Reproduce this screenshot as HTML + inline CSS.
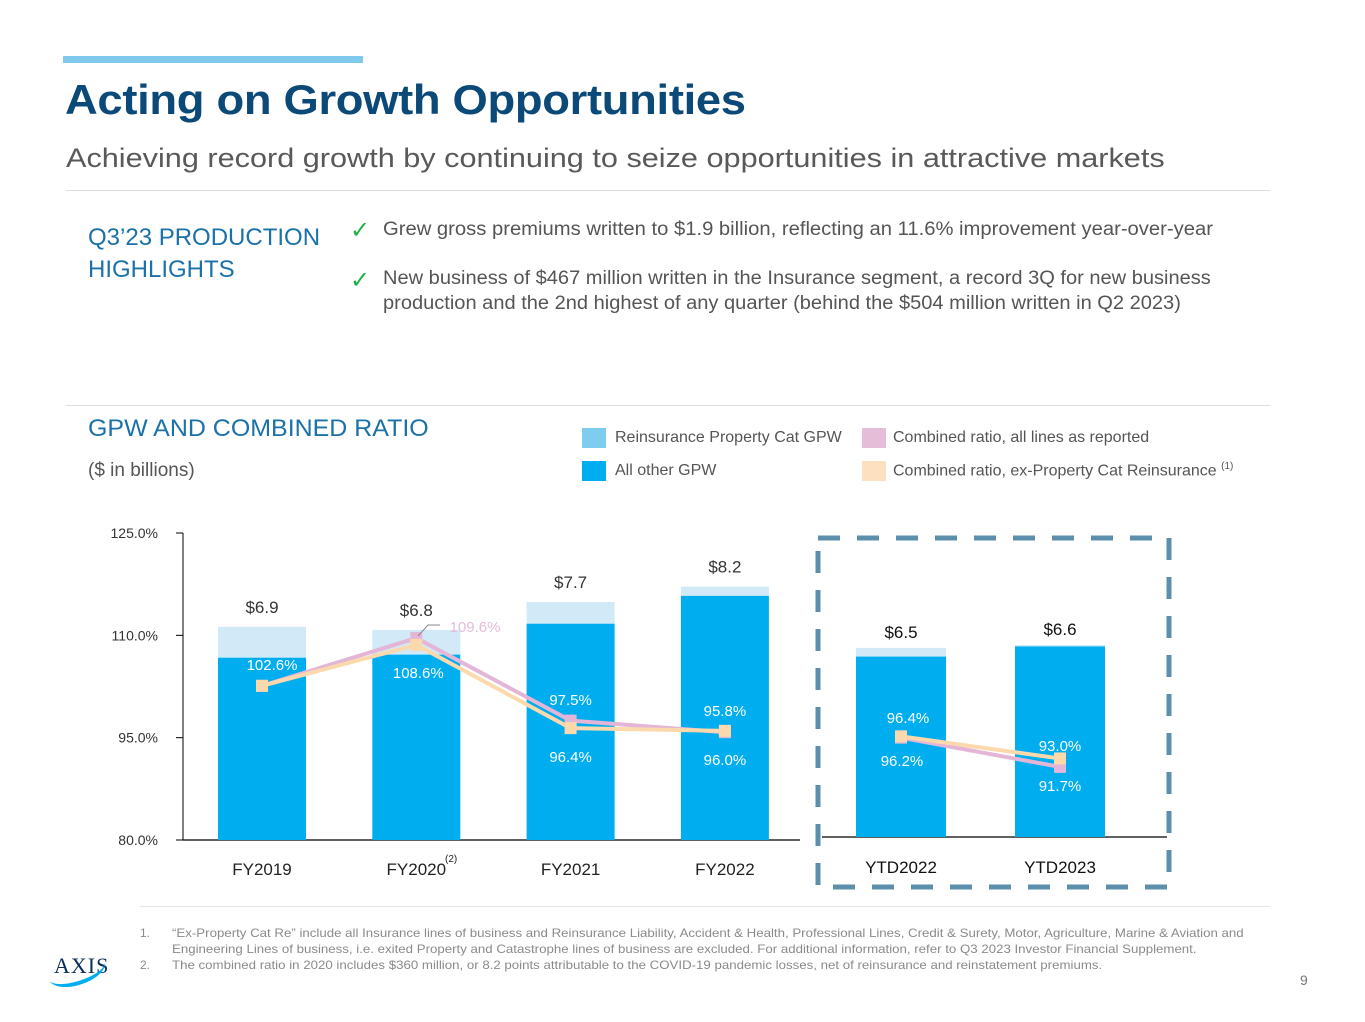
<!DOCTYPE html>
<html><head><meta charset="utf-8"><style>
body{margin:0;width:1365px;height:1022px;position:relative;background:#fff;font-family:"Liberation Sans",sans-serif;overflow:hidden}
.a{position:absolute;white-space:nowrap}
</style></head><body>
<div class="a" style="left:63px;top:56px;width:300px;height:7px;background:#7fc9ec"></div>
<div class="a" style="left:65px;top:76px;font-size:42px;font-weight:bold;color:#0b4a78;letter-spacing:-0.3px;transform-origin:0 0;transform:scaleX(1.08)">Acting on Growth Opportunities</div>
<div class="a" style="left:66px;top:143px;font-size:27px;color:#595959;transform-origin:0 0;transform:scaleX(1.135)">Achieving record growth by continuing to seize opportunities in attractive markets</div>
<div class="a" style="left:66px;top:190px;width:1204px;height:1px;background:#ddd"></div>
<div class="a" style="left:88px;top:222px;font-size:24px;line-height:32px;color:#1a72a8">Q3’23 PRODUCTION<br>HIGHLIGHTS</div>
<div class="a" style="left:350px;top:216px;font-size:24px;color:#22b04a">✓</div>
<div class="a" style="left:383px;top:219px;font-size:19px;color:#555;transform-origin:0 0;transform:scaleX(1.064)">Grew gross premiums written to $1.9 billion, reflecting an 11.6% improvement year-over-year</div>
<div class="a" style="left:350px;top:266px;font-size:24px;color:#22b04a">✓</div>
<div class="a" style="left:383px;top:266px;font-size:19px;line-height:25px;color:#555;transform-origin:0 0;transform:scaleX(1.055)">New business of $467 million written in the Insurance segment, a record 3Q for new business<br>production and the 2nd highest of any quarter (behind the $504 million written in Q2 2023)</div>
<div class="a" style="left:66px;top:405px;width:1204px;height:1px;background:#ddd"></div>
<div class="a" style="left:88px;top:415px;font-size:24px;color:#1a72a8;transform-origin:0 0;transform:scaleX(1.04)">GPW AND COMBINED RATIO</div>
<div class="a" style="left:88px;top:460px;font-size:19px;color:#555">($ in billions)</div>
<div class="a" style="left:582px;top:428px;font-size:16px;color:#555"><span style="display:inline-block;width:24px;height:20px;background:#7fcdee;vertical-align:middle;margin-right:9px"></span>Reinsurance Property Cat GPW</div>
<div class="a" style="left:582px;top:461px;font-size:16px;color:#555"><span style="display:inline-block;width:24px;height:20px;background:#00aeef;vertical-align:middle;margin-right:9px"></span>All other GPW</div>
<div class="a" style="left:862px;top:428px;font-size:16px;color:#555"><span style="display:inline-block;width:24px;height:20px;background:#e6bdd9;vertical-align:middle;margin-right:7px"></span>Combined ratio, all lines as reported</div>
<div class="a" style="left:862px;top:461px;font-size:16px;color:#555"><span style="display:inline-block;width:24px;height:20px;background:#fde0bf;vertical-align:middle;margin-right:7px"></span>Combined ratio, ex-Property Cat Reinsurance <sup style="font-size:10px">(1)</sup></div>

<svg class="a" style="left:0;top:0" width="1365" height="1022" font-family="Liberation Sans, sans-serif">
<g id="g"></g>
</svg>

<div class="a" style="left:140px;top:925px;font-size:12px;line-height:16px;color:#8a8a8a">
<div><span style="display:inline-block;width:32px">1.</span><span style="display:inline-block;transform-origin:0 0;transform:scaleX(1.105)">“Ex-Property Cat Re” include all Insurance lines of business and Reinsurance Liability, Accident &amp; Health, Professional Lines, Credit &amp; Surety, Motor, Agriculture, Marine &amp; Aviation and</span></div>
<div><span style="display:inline-block;width:32px"></span><span style="display:inline-block;transform-origin:0 0;transform:scaleX(1.105)">Engineering Lines of business, i.e. exited Property and Catastrophe lines of business are excluded. For additional information, refer to Q3 2023 Investor Financial Supplement.</span></div>
<div><span style="display:inline-block;width:32px">2.</span><span style="display:inline-block;transform-origin:0 0;transform:scaleX(1.105)">The combined ratio in 2020 includes $360 million, or 8.2 points attributable to the COVID-19 pandemic losses, net of reinsurance and reinstatement premiums.</span></div>
</div>
<div class="a" style="left:140px;top:906px;width:1130px;height:1px;background:#e5e5e5"></div>
<div class="a" style="left:54px;top:953px;font-family:'Liberation Serif',serif;font-size:22px;color:#0b2d5b;letter-spacing:1px">AXIS<span style="position:absolute;left:-6px;top:4px;width:58px;height:24px;border-bottom:4px solid #00aeef;border-radius:50%;transform:rotate(-18deg)"></span></div>
<div class="a" style="left:1300px;top:972px;font-size:14px;color:#777">9</div>

<script>
const categories=["FY2019","FY2020","FY2021","FY2022"];
const catGpw=[1.0,0.8,0.7,0.3];
const otherGpw=[5.9,6.0,7.0,7.9];
const totalLabels=["$6.9","$6.8","$7.7","$8.2"];
const crReported=[102.6,109.6,97.5,95.8];
const crExCat=[102.6,108.6,96.4,96.0];
const ytdCategories=["YTD2022","YTD2023"];
const ytdCat=[0.3,0.05];
const ytdOther=[6.2,6.55];
const ytdLabels=["$6.5","$6.6"];
const ytdReported=[96.2,91.7];
const ytdExCat=[96.4,93.0];
const yTicks=[80,95,110,125];

const NS="http://www.w3.org/2000/svg";
const g=document.getElementById("g");
function el(t,a,txt){const e=document.createElementNS(NS,t);for(const k in a)e.setAttribute(k,a[k]);if(txt!==undefined)e.textContent=txt;g.appendChild(e);return e;}
const yP=v=>840-(v-80)*307/45;
const yD=v=>840-v*30.9;
const xL=i=>262+i*154.3;
const yP2=v=>737-(v-96.3)*6.5;
const yD2=v=>837-v*29.1;
const xR=i=>901+i*159;

let e;
e=el("line",{x1:183,y1:533,x2:183,y2:840,stroke:"#000","stroke-width":1});

e=el("line",{x1:183,y1:840,x2:800,y2:840,stroke:"#000","stroke-width":1.2});

yTicks.forEach(t=>{
 e=el("line",{x1:176,y1:yP(t),x2:183,y2:yP(t),stroke:"#000"});
 
 e=el("text",{x:158,y:yP(t)+5,"text-anchor":"end","font-size":14,fill:"#333"},t.toFixed(1)+"%");
 
});
categories.forEach((c,i)=>{
 const x=xL(i);
 e=el("rect",{x:x-44,y:yD(otherGpw[i]+catGpw[i]),width:88,height:catGpw[i]*30.9,fill:"#d2e9f7"});
 
 e=el("rect",{x:x-44,y:yD(otherGpw[i]),width:88,height:otherGpw[i]*30.9,fill:"#00aeef"});
 
 e=el("text",{x:x,y:yD(otherGpw[i]+catGpw[i])-14,"text-anchor":"middle","font-size":17,fill:"#333"},totalLabels[i]);
 
 e=el("text",{x:x,y:875,"text-anchor":"middle","font-size":17,fill:"#222"},c);
 
});
e=el("text",{x:445,y:862,"font-size":10,fill:"#222"},"(2)");


e=el("line",{x1:822,y1:837,x2:1167,y2:837,stroke:"#000","stroke-width":1.2});

ytdCategories.forEach((c,i)=>{
 const x=xR(i);
 e=el("rect",{x:x-45,y:yD2(ytdOther[i]+ytdCat[i]),width:90,height:ytdCat[i]*29.1,fill:"#d2e9f7"});
 
 e=el("rect",{x:x-45,y:yD2(ytdOther[i]),width:90,height:ytdOther[i]*29.1,fill:"#00aeef"});
 
 e=el("text",{x:x,y:yD2(ytdOther[i]+ytdCat[i])-10,"text-anchor":"middle","font-size":17,fill:"#111"},ytdLabels[i]);
 
 e=el("text",{x:x,y:873,"text-anchor":"middle","font-size":17,fill:"#111"},c);
 
});

function line(xs,vals,yf,col,name){
 const pts=vals.map((v,i)=>xs(i)+","+yf(v)).join(" ");
 e=el("polyline",{points:pts,fill:"none",stroke:col,"stroke-width":4});
 
 vals.forEach((v,i)=>{e=el("rect",{x:xs(i)-6,y:yf(v)-6,width:12,height:12,fill:col});
 });
}
line(xL,crReported,yP,"#e3b5d6","cr-reported");
line(xL,crExCat,yP,"#fcd9ad","cr-ex-cat");
line(xR,ytdReported,yP2,"#e3b5d6","ytd-cr-reported");
line(xR,ytdExCat,yP2,"#fcd9ad","ytd-cr-ex-cat");

const lbl=[[xL(0)+10,670,"102.6%","#fff"],[xL(1)+2,678,"108.6%","#fff"],[xL(2),705,"97.5%","#fff"],[xL(2),762,"96.4%","#fff"],[xL(3),716,"95.8%","#fff"],[xL(3),765,"96.0%","#fff"],[475,632,"109.6%","#e6bdd9"],
[xR(0)+7,723,"96.4%","#fff"],[xR(0)+1,766,"96.2%","#fff"],[xR(1),751,"93.0%","#fff"],[xR(1),791,"91.7%","#fff"]];
lbl.forEach(l=>{e=el("text",{x:l[0],y:l[1],"text-anchor":"middle","font-size":15,fill:l[3]},l[2]);
 });
e=el("polyline",{points:"418,636 428,625 440,625",fill:"none",stroke:"#888","stroke-width":1});


e=el("rect",{x:818,y:538,width:351,height:349,fill:"none",stroke:"#5b8fab","stroke-width":5,"stroke-dasharray":"22 17"});

</script>
</body></html>
